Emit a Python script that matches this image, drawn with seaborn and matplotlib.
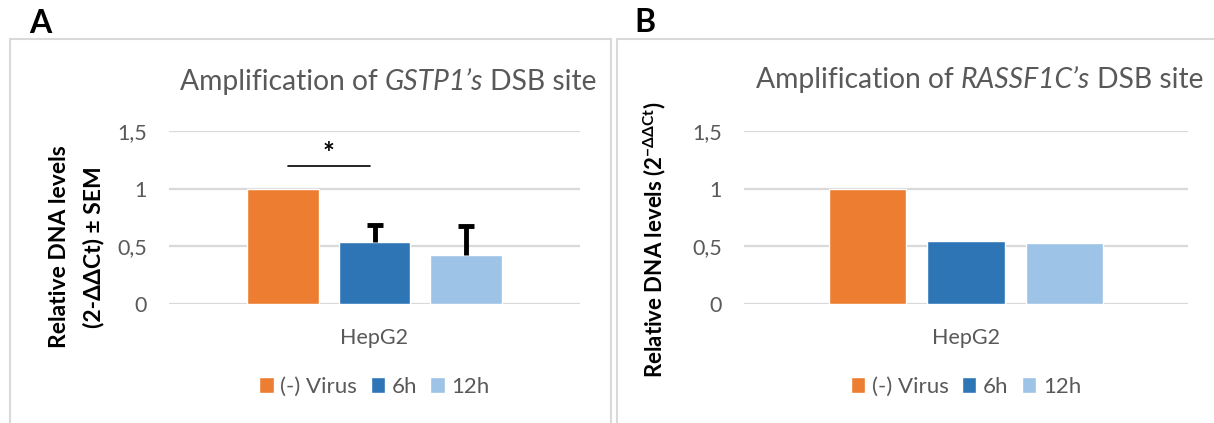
import numpy as np
import pandas as pd
import matplotlib
matplotlib.use("Agg")
import matplotlib.pyplot as plt
from matplotlib.patches import Rectangle
from matplotlib.offsetbox import TextArea, HPacker, AnchoredOffsetbox
import seaborn as sns

# data
cell_line = ["HepG2"]
groups = ["(-) Virus", "6h", "12h"]
gstp1_values = [1.0, 0.537, 0.425]
gstp1_sem = [0.0, 0.15, 0.255]
rassf1c_values = [1.0, 0.546, 0.529]
yticks = [0, 0.5, 1, 1.5]
ytick_labels = ["0", "0,5", "1", "1,5"]
colors = ["#ED7D31", "#2E75B6", "#9DC3E6"]

sns.set_theme(style="white")
plt.rcParams["font.family"] = ["Lato", "DejaVu Sans"]
plt.rcParams["mathtext.fontset"] = "custom"
plt.rcParams["mathtext.rm"] = "Lato"
plt.rcParams["mathtext.bf"] = "Lato:bold"
plt.rcParams["mathtext.it"] = "Lato:italic"

W, H = 1214, 423
fig = plt.figure(figsize=(W / 100, H / 100), dpi=100)
grey = "#595959"
grid_col = "#D9D9D9"


def box(x0, x1, ytop, ybot):
    # pixel box -> figure fraction [left, bottom, width, height]
    return [x0 / W, 1 - ybot / H, (x1 - x0) / W, (ybot - ytop) / H]


def panel_title(xc, yc, parts):
    kids = [TextArea(t, textprops=dict(fontsize=20.3, color=grey, fontstyle=st)) for t, st in parts]
    pack = HPacker(children=kids, align="baseline", pad=0, sep=5)
    ab = AnchoredOffsetbox(loc="center", child=pack, bbox_to_anchor=(xc / W, 1 - yc / H),
                           bbox_transform=fig.transFigure, frameon=False, pad=0, borderpad=0)
    fig.add_artist(ab)


# panel frames
fig.patches.append(Rectangle((10 / W, -0.05), 601 / W, 1.05 - 39 / H, transform=fig.transFigure,
                             fill=False, edgecolor=grid_col, linewidth=1.5))
fig.patches.append(Rectangle((617 / W, -0.05), 0.6, 1.05 - 39 / H, transform=fig.transFigure,
                             fill=False, edgecolor=grid_col, linewidth=1.5))


def draw_panel(ax, values):
    df = pd.DataFrame({"line": cell_line * len(groups), "group": groups, "value": values})
    sns.barplot(data=df, x="line", y="value", hue="group", hue_order=groups,
                palette=colors, width=0.665, gap=0.21, errorbar=None,
                saturation=1, ax=ax, zorder=3)
    ax.set_xlim(-0.5, 0.5)
    ax.set_ylim(0, 1.5)
    ax.set_yticks(yticks)
    ax.set_yticklabels(ytick_labels)
    ax.yaxis.grid(True, color=grid_col, linewidth=1.6, zorder=0)
    ax.set_axisbelow(True)
    for s in ax.spines.values():
        s.set_visible(False)
    ax.tick_params(axis="y", length=0, pad=16, labelsize=15.5, labelcolor=grey)
    ax.tick_params(axis="x", length=0, pad=17, labelsize=15.5, labelcolor=grey)
    ax.set_xlabel("")
    ax.set_ylabel("")
    leg = ax.legend(loc="upper center", bbox_to_anchor=(0.5, -0.305), ncol=3, frameon=False,
                    handlelength=0.65, handleheight=0.7, handletextpad=0.3,
                    columnspacing=0.6, fontsize=16)
    for t in leg.get_texts():
        t.set_color(grey)
    return ax


# ---- panel A ----
axA = fig.add_axes(box(169, 580, 131, 304))
draw_panel(axA, gstp1_values)
barsA = axA.patches[:len(groups)]
xs = [p.get_x() + p.get_width() / 2 for p in barsA]
for x, v, e in zip(xs, gstp1_values, gstp1_sem):
    if e > 0:
        _, caps, _ = axA.errorbar(x, v, yerr=[[0], [e]], fmt="none", ecolor="black",
                                  elinewidth=3.5, capsize=6, capthick=3.5, zorder=4)
        caps[0].set_visible(False)
axA.plot([xs[0] + 0.01, xs[1] - 0.01], [1.2, 1.2], color="black", linewidth=1.2)
axA.text((xs[0] + xs[1]) / 2, 1.19, "*", ha="center", va="bottom", fontsize=20,
         fontweight="bold", color="black")
panel_title(388, 82, [("Amplification of", "normal"), ("GSTP1’s", "italic"), ("DSB site", "normal")])
fig.text(60 / W, 1 - 247 / H, "Relative DNA levels", rotation=90, ha="center", va="center",
         fontsize=16.5, fontweight="bold", color="black")
fig.text(94 / W, 1 - 247 / H, "(2-ΔΔCt) ± SEM", rotation=90, ha="center", va="center",
         fontsize=16.5, fontweight="bold", color="black")
fig.text(29 / W, 1 - 33 / H, "A", fontsize=23, fontweight="bold", color="black",
         ha="left", va="baseline")

# ---- panel B ----
axB = fig.add_axes(box(744, 1188, 131, 304))
draw_panel(axB, rassf1c_values)
panel_title(980, 80, [("Amplification of", "normal"), ("RASSF1C’s", "italic"), ("DSB site", "normal")])
fig.text(655 / W, 1 - 240 / H, "Relative DNA levels (2$^{\\mathbf{-ΔΔCt}}$)",
         rotation=90, ha="center", va="center", fontsize=16, fontweight="bold", color="black")
fig.text(634 / W, 1 - 32 / H, "B", fontsize=23, fontweight="bold", color="black",
         ha="left", va="baseline")

fig.savefig("out.png", dpi=100)
